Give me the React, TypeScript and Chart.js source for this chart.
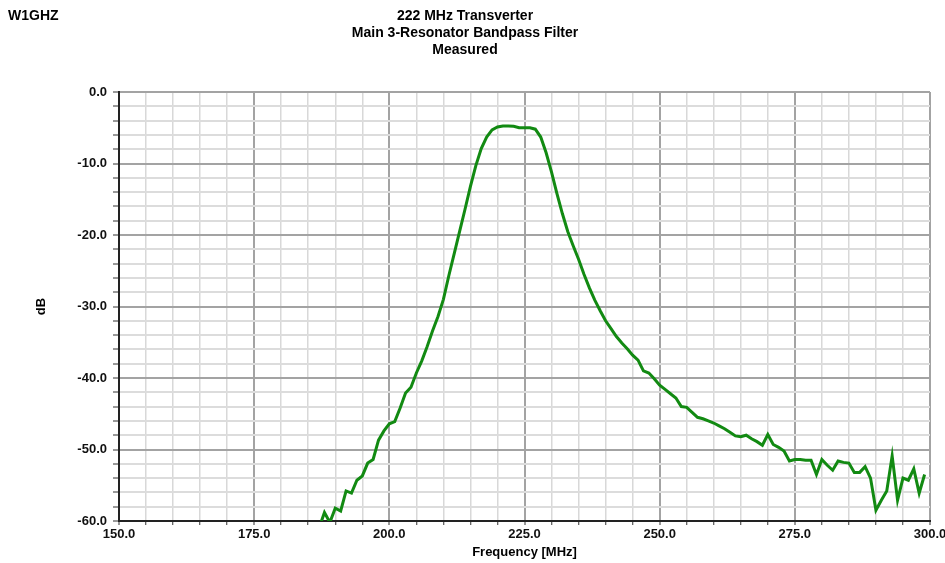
import React, { useEffect, useRef } from "react";
import { Chart, registerables } from "chart.js";

Chart.register(...registerables);

const titleLines = ["222 MHz Transverter", "Main 3-Resonator Bandpass Filter", "Measured"];
const cornerLabel = "W1GHZ";
const xTitle = "Frequency [MHz]";
const yTitle = "dB";

const freqMHz = [
  187, 188, 189, 190, 191, 192, 193, 194, 195, 196, 197, 198, 199, 200,
  201, 202, 203, 204, 205, 206, 207, 208, 209, 210, 211, 212, 213, 214, 215,
  216, 217, 218, 219, 220, 221, 222, 223, 224, 225, 226, 227, 228, 229, 230,
  231, 232, 233, 234, 235, 236, 237, 238, 239, 240, 241, 242, 243, 244, 245,
  246, 247, 248, 249, 250, 251, 252, 253, 254, 255, 256, 257, 258, 259, 260,
  261, 262, 263, 264, 265, 266, 267, 268, 269, 270, 271, 272, 273, 274, 275,
  276, 277, 278, 279, 280, 281, 282, 283, 284, 285, 286, 287, 288, 289, 290,
  291, 292, 293, 294, 295, 296, 297, 298, 299,
];

const gainDB = [
  -61.0, -58.8, -60.2, -58.2, -58.6, -55.8, -56.1, -54.3, -53.7, -51.9, -51.4, -48.7, -47.4, -46.4,
  -46.1, -44.2, -42.1, -41.3, -39.3, -37.6, -35.6, -33.4, -31.4, -29.0, -25.7, -22.6, -19.5, -16.4, -13.2,
  -10.3, -7.9, -6.3, -5.3, -4.9, -4.75, -4.75, -4.8, -5.0, -5.0, -5.0, -5.2, -6.3, -8.5, -11.2,
  -14.2, -17.0, -19.5, -21.5, -23.4, -25.5, -27.4, -29.1, -30.6, -32.0, -33.1, -34.2, -35.1, -35.9, -36.8,
  -37.5, -39.0, -39.3, -40.1, -41.0, -41.6, -42.2, -42.8, -44.0, -44.1, -44.8, -45.5, -45.7, -46.0, -46.3,
  -46.7, -47.1, -47.6, -48.1, -48.2, -48.0, -48.5, -48.9, -49.4, -47.9, -49.3, -49.7, -50.2, -51.6, -51.4,
  -51.4, -51.5, -51.5, -53.5, -51.4, -52.2, -52.9, -51.6, -51.8, -51.9, -53.2, -53.2, -52.4, -54.0, -58.5,
  -57.1, -55.8, -50.9, -57.1, -54.0, -54.3, -52.7, -56.1, -53.5,
];

const FONT = "'Liberation Sans', Arial, sans-serif";

const cornerPlugin = {
  id: "cornerLabel",
  afterDraw(chart: any) {
    const ctx = chart.ctx;
    ctx.save();
    ctx.font = `bold 14px ${FONT}`;
    ctx.fillStyle = "#000";
    ctx.textAlign = "left";
    ctx.textBaseline = "middle";
    ctx.fillText(cornerLabel, 8, 16);
    ctx.restore();
  },
};

const bgPlugin = {
  id: "bg",
  beforeDraw(chart: any) {
    const ctx = chart.ctx;
    ctx.save();
    ctx.fillStyle = "#fff";
    ctx.fillRect(0, 0, chart.width, chart.height);
    ctx.restore();
  },
};

export default function App() {
  const ref = useRef<HTMLCanvasElement>(null);
  useEffect(() => {
    const canvas = ref.current;
    if (!canvas) return;
    const chart = new Chart(canvas, {
      type: "line",
      data: {
        datasets: [
          {
            data: freqMHz.map((f, i) => ({ x: f, y: gainDB[i] })),
            borderColor: "#128a12",
            borderWidth: 3,
            pointRadius: 0,
            tension: 0,
            fill: false,
          },
        ],
      },
      options: {
        animation: false,
        responsive: false,
        maintainAspectRatio: false,
        layout: { padding: { left: 0, right: 15, top: 0, bottom: 0 } },
        plugins: {
          legend: { display: false },
          tooltip: { enabled: false },
          title: {
            display: true,
            text: titleLines,
            color: "#000",
            font: { family: FONT, size: 14, weight: "bold", lineHeight: 17 / 14 },
            padding: { top: 7.5, bottom: 33.5 },
          },
        },
        scales: {
          x: {
            type: "linear",
            min: 150,
            max: 300,
            afterFit: (s: any) => {
              s.height = 42;
              s.paddingLeft = 0;
              s.paddingRight = 0;
            },
            ticks: {
              stepSize: 5,
              autoSkip: false,
              maxRotation: 0,
              padding: 2,
              color: "#111",
              font: { family: FONT, size: 13, weight: "bold" },
              callback: (v: any) => (Number(v) % 25 === 0 ? Number(v).toFixed(1) : ""),
            },
            grid: {
              color: (c: any) => (c.tick && c.tick.value % 25 === 0 ? "#a3a3a3" : "#d8d8d8"),
              lineWidth: (c: any) => (c.tick && c.tick.value % 25 === 0 ? 2 : 1.5),
              tickLength: 4,
              tickColor: "#333",
              tickWidth: 1,
            },
            border: { color: "#222", width: 2 },
            title: {
              display: true,
              text: xTitle,
              color: "#000",
              font: { family: FONT, size: 13, weight: "bold" },
              padding: { top: 0, bottom: 3 },
            },
          },
          y: {
            type: "linear",
            min: -60,
            max: 0,
            afterFit: (s: any) => {
              s.width = 119;
              s.paddingTop = 0;
              s.paddingBottom = 0;
            },
            ticks: {
              stepSize: 2,
              autoSkip: false,
              padding: 6,
              color: "#111",
              font: { family: FONT, size: 13, weight: "bold" },
              callback: (v: any) => (Math.round(Number(v)) % 10 === 0 ? Number(v).toFixed(1) : ""),
            },
            grid: {
              color: (c: any) => (c.tick && Math.round(c.tick.value) % 10 === 0 ? "#a3a3a3" : "#dcdcdc"),
              lineWidth: 2,
              tickLength: 6,
              tickColor: "#333",
              tickWidth: 1,
            },
            border: { color: "#222", width: 2 },
            title: {
              display: true,
              text: yTitle,
              color: "#000",
              font: { family: FONT, size: 13, weight: "bold" },
              padding: { top: 34, bottom: 0 },
            },
          },
        },
      },
      plugins: [bgPlugin, cornerPlugin],
    } as any);
    return () => chart.destroy();
  }, []);

  return (
    <div style={{ position: "fixed", left: 0, top: 0, width: 945, height: 563, background: "#fff" }}>
      <canvas ref={ref} width={945} height={563} style={{ display: "block" }} />
    </div>
  );
}
